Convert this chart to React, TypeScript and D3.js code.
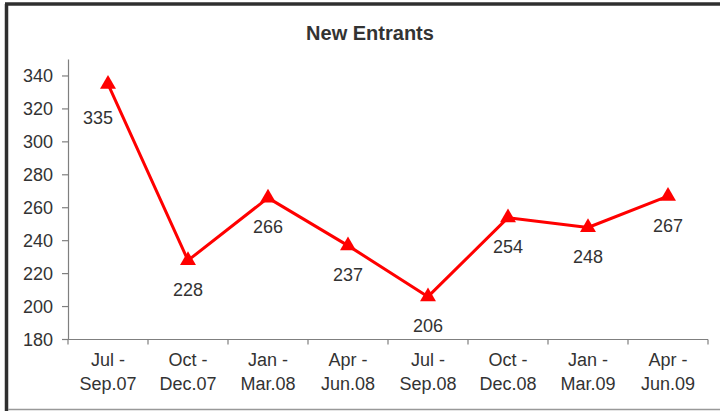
import React from "react";
import * as d3 from "d3";

const categoriesTop = ["Jul -", "Oct -", "Jan -", "Apr -", "Jul -", "Oct -", "Jan -", "Apr -"];
const categoriesBottom = ["Sep.07", "Dec.07", "Mar.08", "Jun.08", "Sep.08", "Dec.08", "Mar.09", "Jun.09"];
const values = [335, 228, 266, 237, 206, 254, 248, 267];
const yTicks = [180, 200, 220, 240, 260, 280, 300, 320, 340];
const title = "New Entrants";

const W = 720;
const H = 411;
const left = 68;
const right = 708;
const top = 59.5;
const bottom = 339.5;
const font = "Arial, 'Liberation Sans', sans-serif";

export default function App() {
  const x = d3.scaleBand<number>().domain(values.map((_, i) => i)).range([left, right]);
  const y = d3.scaleLinear().domain([180, 350]).range([bottom, top]);
  const cx = (i: number) => (x(i) as number) + x.bandwidth() / 2;
  const line = d3.line<number>().x((_, i) => cx(i)).y((d) => y(d));
  const tri = d3.symbol().type(d3.symbolTriangle).size(110)();
  const axisColor = "#7f7f7f";
  const textColor = "#333333";

  return (
    <svg width={W} height={H} style={{ position: "absolute", left: 0, top: 0, background: "#fff" }}>
      <rect x={0} y={0} width={W} height={H} fill="#fff" />
      {/* frame */}
      <line x1={6.5} y1={4} x2={6.5} y2={411} stroke="#2f2f2f" strokeWidth={3.5} />
      <line x1={5} y1={4} x2={720} y2={4} stroke="#2f2f2f" strokeWidth={3.5} />
      <line x1={8} y1={409.5} x2={720} y2={409.5} stroke="#999" strokeWidth={1.5} />

      <text x={370} y={40} textAnchor="middle" fontFamily={font} fontSize={20} fontWeight="bold" fill={textColor}>
        {title}
      </text>

      {/* y axis */}
      <line x1={left + 0.5} y1={top} x2={left + 0.5} y2={bottom} stroke={axisColor} strokeWidth={1.2} />
      {yTicks.map((t) => (
        <g key={t}>
          <line x1={left - 6} x2={left} y1={y(t)} y2={y(t)} stroke={axisColor} strokeWidth={1.2} />
          <text x={53} y={y(t) + 6.5} textAnchor="end" fontFamily={font} fontSize={18} fill={textColor}>
            {t}
          </text>
        </g>
      ))}

      {/* x axis */}
      <line x1={left} y1={bottom} x2={right} y2={bottom} stroke={axisColor} strokeWidth={1.2} />
      {d3.range(values.length + 1).map((i) => {
        const xx = left + i * x.bandwidth();
        return <line key={i} x1={xx} x2={xx} y1={bottom} y2={bottom + 5} stroke={axisColor} strokeWidth={1.2} />;
      })}
      {categoriesTop.map((c, i) => (
        <g key={i}>
          <text x={cx(i)} y={366} textAnchor="middle" fontFamily={font} fontSize={18} fill={textColor}>
            {c}
          </text>
          <text x={cx(i)} y={390} textAnchor="middle" fontFamily={font} fontSize={18} fill={textColor}>
            {categoriesBottom[i]}
          </text>
        </g>
      ))}

      <path d={line(values) || ""} fill="none" stroke="#ff0000" strokeWidth={3} strokeLinejoin="round" />
      {values.map((v, i) => (
        <path key={i} d={tri || ""} transform={`translate(${cx(i)},${y(v)})`} fill="#ff0000" />
      ))}
      {values.map((v, i) => (
        <text
          key={i}
          x={cx(i) + (i === 0 ? -10 : 0)}
          y={y(v) + (i === 0 ? 40 : 35.5)}
          textAnchor="middle"
          fontFamily={font}
          fontSize={18}
          fill={textColor}
        >
          {v}
        </text>
      ))}
    </svg>
  );
}
